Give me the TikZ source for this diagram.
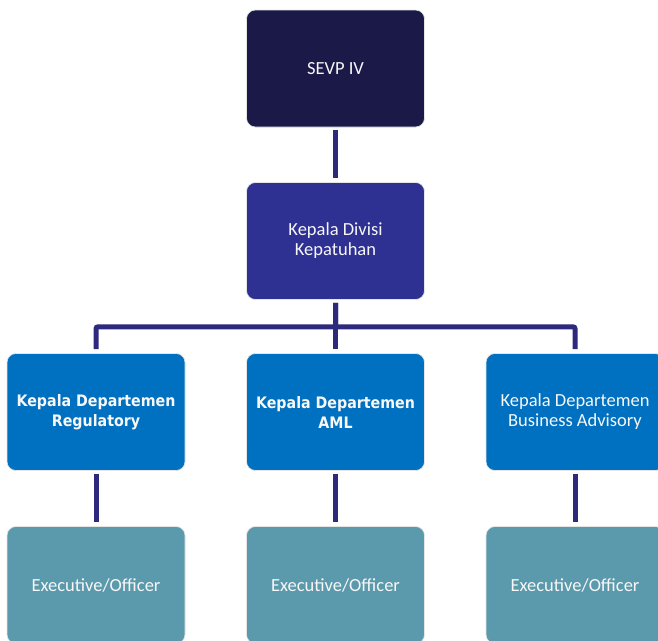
\documentclass[tikz,border=0pt]{standalone}
\usepackage{fontspec}
\setmainfont{Carlito}
\newfontfamily\deptfont{DejaVu Sans Condensed}
\usepackage{tikz}
\usetikzlibrary{positioning, calc}

\definecolor{sevpnavy}{RGB}{26, 25, 72}
\definecolor{divpurple}{RGB}{46, 49, 146}
\definecolor{deptblue}{RGB}{0, 112, 192}
\definecolor{staffteal}{RGB}{91, 154, 173}
\definecolor{linknavy}{RGB}{45, 42, 126}

\begin{document}
\begin{tikzpicture}[x=1pt, y=-1pt,
    orgbox/.style={draw=white!80!gray, line width=0.6pt, rounded corners=9pt, minimum width=178pt, minimum height=117pt, inner sep=0pt, align=center, text=white!94!gray, font=\fontsize{18.5}{20}\selectfont},
    deptbold/.style={font=\deptfont\bfseries\fontsize{15.8}{20}\selectfont},
    link/.style={draw=linknavy, line width=5pt, rounded corners=2pt, shorten >=4pt, shorten <=3pt}]
  \useasboundingbox (0,0) rectangle (658,640);

  % Top of the chart
  \node[orgbox, fill=sevpnavy] (sevp) at (335.5, 68.5) {SEVP IV};
  \node[orgbox, fill=divpurple] (div) at (335.5, 241) {Kepala Divisi\\Kepatuhan};

  % Departments
  \node[orgbox, deptbold, fill=deptblue] (reg) at (96, 412) {Kepala Departemen\\Regulatory};
  \node[orgbox, deptbold, fill=deptblue] (aml) at (335.5, 412) {Kepala Departemen\\AML};
  \node[orgbox, fill=deptblue] (bus) at (575, 412) {Kepala Departemen\\Business Advisory};

  % Staff under each department
  \node[orgbox, fill=staffteal] (regx) at (96, 585) {Executive/Officer};
  \node[orgbox, fill=staffteal] (amlx) at (335.5, 585) {Executive/Officer};
  \node[orgbox, fill=staffteal] (busx) at (575, 585) {Executive/Officer};

  % Reporting lines
  \draw[link] (sevp) -- (div);
  \coordinate (split) at ($(div.south)+(0,27)$);
  \draw[link] (div) -- (split) -| (reg);
  \draw[link] (div) -- (aml);
  \draw[link] (div) -- (split) -| (bus);
  \draw[link] (reg) -- (regx);
  \draw[link] (aml) -- (amlx);
  \draw[link] (bus) -- (busx);
\end{tikzpicture}
\end{document}
